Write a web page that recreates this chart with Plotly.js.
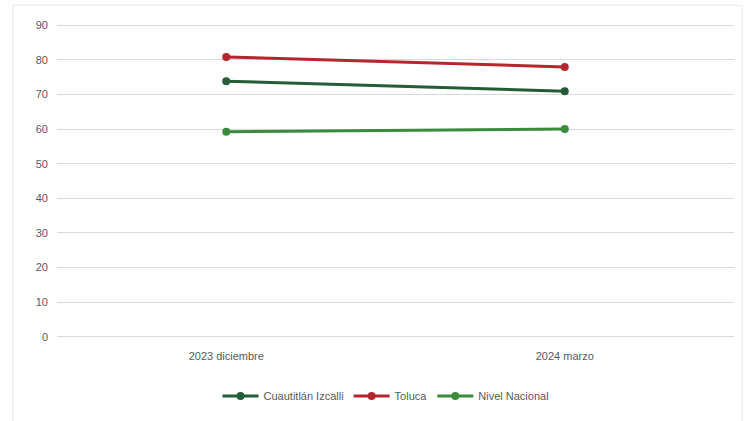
<!DOCTYPE html>
<html>
<head>
<meta charset="utf-8">
<script src="https://cdn.plot.ly/plotly-3.0.1.min.js"></script>
<style>html,body{margin:0;padding:0;background:#fff;}#chart{width:744px;height:421px;}</style>
</head>
<body>
<div id="chart"></div>
<script>
const categories = ["2023 diciembre", "2024 marzo"];
const seriesNames = ["Cuautitlán Izcalli", "Toluca", "Nivel Nacional"];
const cuautitlan = [73.8, 70.9];
const toluca = [80.8, 77.9];
const nacional = [59.2, 60.0];
const yTicks = [0, 10, 20, 30, 40, 50, 60, 70, 80, 90];

const colors = ["#235c36", "#b5262e", "#3a8a3c"];
const values = [cuautitlan, toluca, nacional];

const traces = values.map((v, i) => ({
  type: "scatter",
  mode: "lines+markers",
  name: seriesNames[i],
  x: categories,
  y: v,
  line: {color: colors[i], width: 3},
  marker: {color: colors[i], size: 8}
}));

const layout = {
  width: 744, height: 421,
  margin: {l: 57, r: 10, t: 24, b: 83},
  paper_bgcolor: "#ffffff",
  plot_bgcolor: "#ffffff",
  font: {family: "Liberation Sans, Arial, sans-serif", size: 11, color: "#595959"},
  showlegend: true,
  legend: {orientation: "h", x: 0.486, xanchor: "center", y: -0.185, yanchor: "middle",
           font: {size: 11, color: "#595959"}, itemwidth: 36, tracegroupgap: 0},
  xaxis: {type: "category", range: [-0.5, 1.5], showgrid: false, zeroline: false,
          showline: false, ticks: "", ticklabelstandoff: 10},
  yaxis: {range: [-0.3, 90.3], tickvals: yTicks, showgrid: true, gridcolor: "#d9d9d9",
          gridwidth: 1, zeroline: true, zerolinecolor: "#d9d9d9", zerolinewidth: 1,
          showline: false, ticks: "", ticklabelstandoff: 8},
  shapes: [{type: "rect", xref: "paper", yref: "paper", x0: -0.065, x1: 1.012, y0: -0.27, y1: 1.06,
            line: {color: "#e6e6e6", width: 1}}]
};

Plotly.newPlot("chart", traces, layout, {displayModeBar: false, staticPlot: true});
</script>
</body>
</html>
